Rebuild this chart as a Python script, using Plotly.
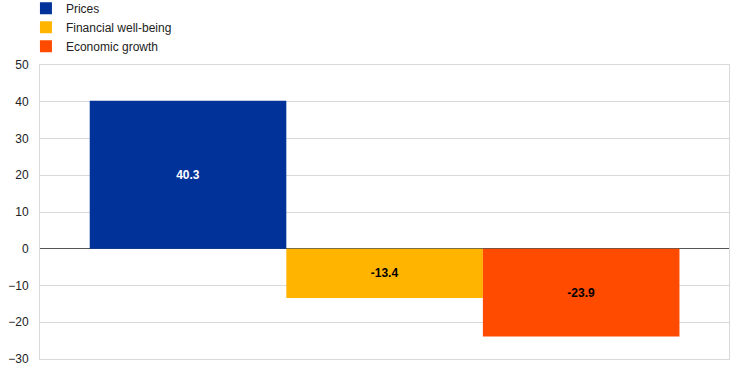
import plotly.graph_objects as go

series = ["Prices", "Financial well-being", "Economic growth"]
values = [40.3, -13.4, -23.9]
colors = ["#003299", "#FFB400", "#FF4B00"]
label_colors = ["white", "black", "black"]
y_ticks = [-30, -20, -10, 0, 10, 20, 30, 40, 50]

FONT = "Arial, Liberation Sans, sans-serif"

fig = go.Figure()
for i, (name, v, c, lc) in enumerate(zip(series, values, colors, label_colors)):
    fig.add_trace(go.Bar(
        x=[i], y=[v], name=name, width=1, marker=dict(color=c, line=dict(width=0)),
        text=[f"{v:.1f}"], textposition="inside", insidetextanchor="middle",
        textfont=dict(color=lc, size=12, family=FONT),
        texttemplate="<b>%{text}</b>",
    ))

fig.update_layout(
    width=742, height=371,
    margin=dict(l=40, r=13, t=65, b=12, autoexpand=False),
    barmode="overlay",
    plot_bgcolor="white", paper_bgcolor="white",
    font=dict(family=FONT, size=12, color="#222"),
    showlegend=True,
    legend=dict(x=-0.0204, xref="paper", y=1.242, yref="paper", xanchor="left", yanchor="top",
                orientation="v", font=dict(size=12, family=FONT), itemwidth=30, tracegroupgap=0,
                bgcolor="rgba(0,0,0,0)"),
    xaxis=dict(range=[-0.753, 2.752], showticklabels=False, showgrid=False, zeroline=False,
               showline=True, mirror=True, linecolor="#d9d9d9", linewidth=1, ticks=""),
    yaxis=dict(range=[-30, 50], tickvals=y_ticks, showgrid=True, gridcolor="#d9d9d9",
               zeroline=True, zerolinecolor="#555555", zerolinewidth=1,
               showline=True, mirror=True, linecolor="#d9d9d9", linewidth=1,
               ticks="", ticklabelstandoff=8, tickfont=dict(size=12, color="#222", family=FONT)),
)

fig.write_html("out.html", config={"displayModeBar": False},
               post_script="document.body.style.margin='0';")
